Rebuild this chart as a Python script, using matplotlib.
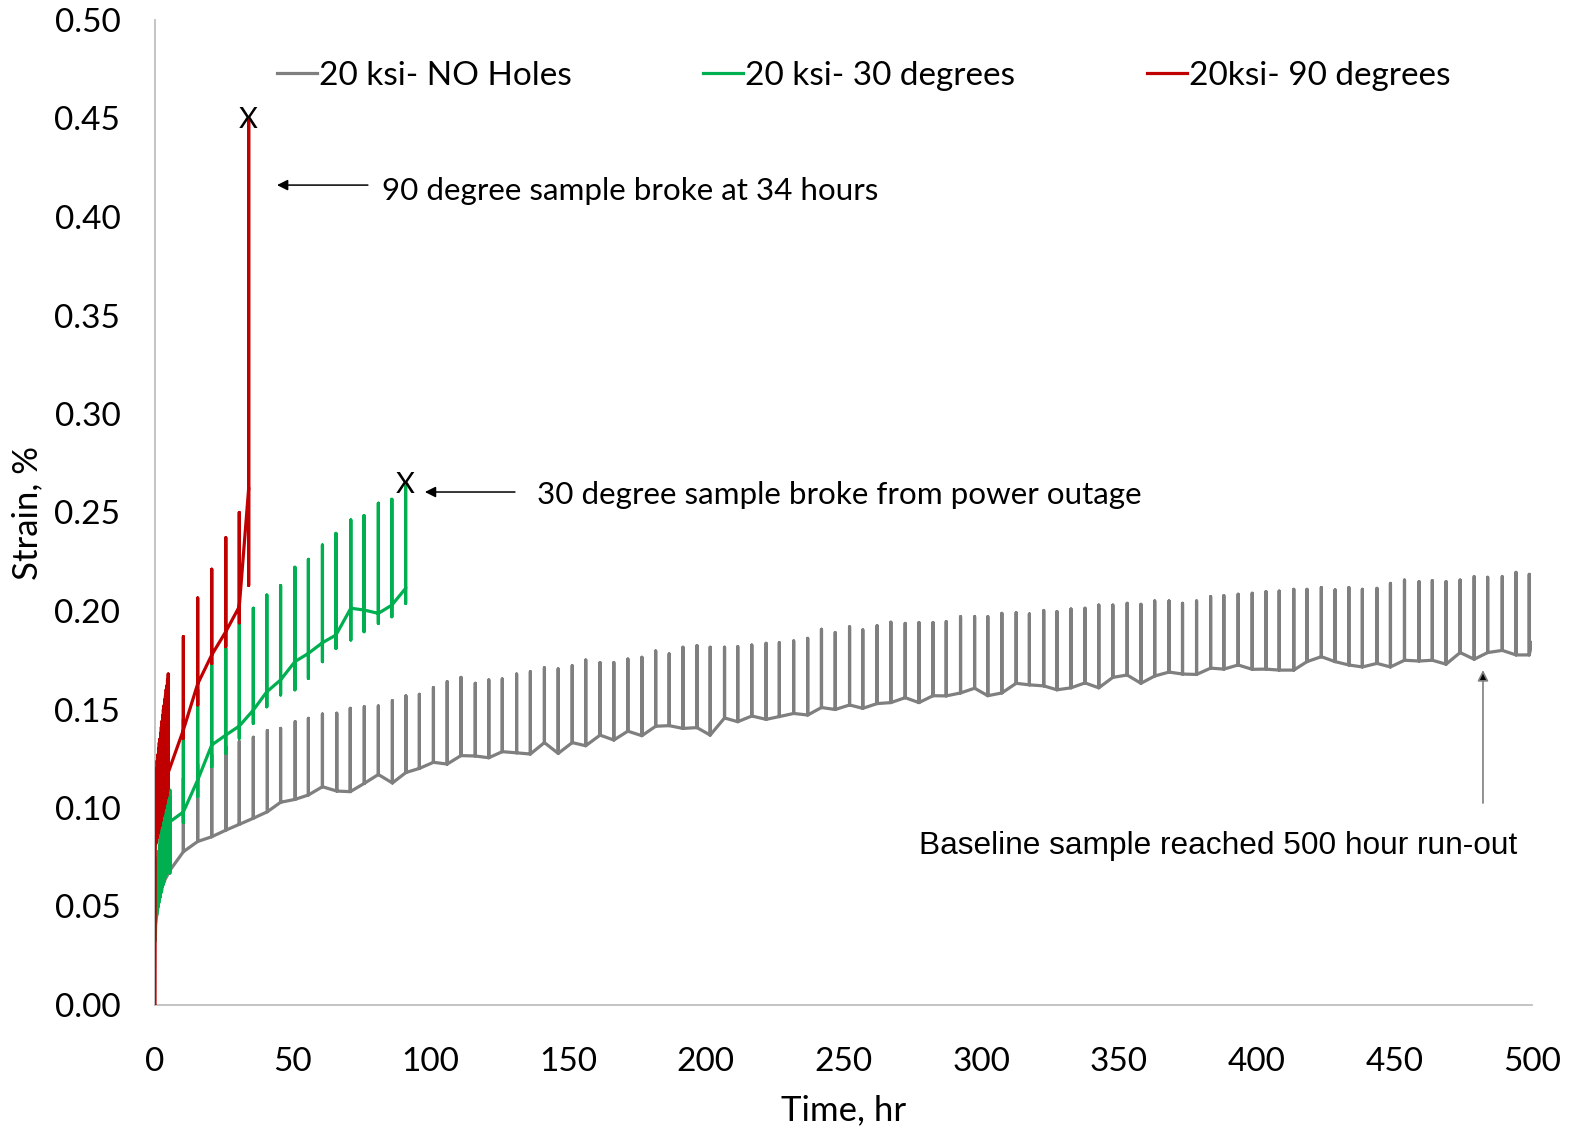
import matplotlib
matplotlib.use("Agg")
import matplotlib.pyplot as plt
from matplotlib.lines import Line2D

plt.rcParams['font.family'] = ['Lato', 'DejaVu Sans']

# ---- 20 ksi, no holes (baseline sample) ----
gray_lead_t = [0.3, 1.5, 3.0]
gray_lead_s = [0.042, 0.055, 0.062]
gray_t = [5.5, 10.3, 15.5, 20.6, 25.8, 30.6, 35.7, 40.8, 45.6, 50.9,
          55.7, 60.8, 66.0, 70.9, 76.0, 81.1, 86.2, 91.1, 96.0, 101.1,
          106.1, 111.1, 116.3, 121.2, 126.1, 131.3, 136.3, 141.4, 146.4, 151.5,
          156.4, 161.6, 166.6, 171.7, 176.8, 181.8, 186.7, 191.7, 196.8, 201.6,
          206.8, 211.6, 216.7, 221.9, 226.7, 231.9, 237.0, 242.0, 247.0, 252.2,
          257.0, 262.2, 267.2, 272.4, 277.4, 282.5, 287.3, 292.5, 297.6, 302.4,
          307.5, 312.7, 317.5, 322.7, 327.5, 332.6, 337.7, 342.7, 347.8, 353.0,
          358.0, 363.0, 368.2, 373.1, 378.2, 383.3, 388.1, 393.3, 398.4, 403.4,
          408.2, 413.5, 418.3, 423.5, 428.5, 433.5, 438.4, 443.7, 448.6, 453.7,
          459.0, 463.8, 468.8, 473.9, 479.0, 483.9, 489.2, 494.2, 499.0]
gray_peak = [0.105, 0.115, 0.122, 0.127, 0.131, 0.1337, 0.1359, 0.1393, 0.1404, 0.1438,
             0.1455, 0.1477, 0.1481, 0.1506, 0.1514, 0.1518, 0.1545, 0.1569, 0.1577, 0.1611,
             0.1641, 0.1663, 0.1633, 0.1650, 0.1655, 0.1680, 0.1692, 0.1712, 0.1706, 0.1722,
             0.1751, 0.1738, 0.1738, 0.1756, 0.1765, 0.1797, 0.1782, 0.1816, 0.1824, 0.1816,
             0.1816, 0.1819, 0.1827, 0.1836, 0.1839, 0.1848, 0.1861, 0.1907, 0.1890, 0.1920,
             0.1904, 0.1925, 0.1943, 0.1937, 0.1941, 0.1941, 0.1946, 0.1971, 0.1971, 0.1971,
             0.1988, 0.1991, 0.1985, 0.2002, 0.1997, 0.2010, 0.2014, 0.2030, 0.2030, 0.2039,
             0.2034, 0.2051, 0.2051, 0.2039, 0.2051, 0.2073, 0.2078, 0.2085, 0.2090, 0.2098,
             0.2101, 0.2110, 0.2110, 0.2119, 0.2107, 0.2119, 0.2110, 0.2115, 0.2140, 0.2157,
             0.2149, 0.2154, 0.2149, 0.2157, 0.2174, 0.2171, 0.2174, 0.2196, 0.2186]
gray_base = [0.0685, 0.0778, 0.0830, 0.0854, 0.0888, 0.0917, 0.0948, 0.0981, 0.1029, 0.1044,
             0.1066, 0.1108, 0.1086, 0.1083, 0.1125, 0.1170, 0.1127, 0.1180, 0.1201, 0.1232,
             0.1223, 0.1266, 0.1264, 0.1255, 0.1286, 0.1280, 0.1274, 0.1332, 0.1277, 0.1332,
             0.1316, 0.1370, 0.1345, 0.1390, 0.1367, 0.1415, 0.1418, 0.1404, 0.1408, 0.1370,
             0.1457, 0.1438, 0.1467, 0.1450, 0.1464, 0.1480, 0.1472, 0.1510, 0.1500, 0.1523,
             0.1506, 0.1530, 0.1535, 0.1560, 0.1535, 0.1570, 0.1569, 0.1584, 0.1608, 0.1570,
             0.1584, 0.1633, 0.1625, 0.1620, 0.1600, 0.1610, 0.1635, 0.1610, 0.1663, 0.1675,
             0.1633, 0.1670, 0.1690, 0.1680, 0.1678, 0.1710, 0.1705, 0.1726, 0.1704, 0.1705,
             0.1700, 0.1700, 0.1743, 0.1768, 0.1743, 0.1726, 0.1716, 0.1734, 0.1716, 0.1750,
             0.1746, 0.1750, 0.1730, 0.1789, 0.1755, 0.1789, 0.1800, 0.1777, 0.1777]
gray_end_t = [500.0]
gray_end_s = [0.184]

# ---- 20 ksi, 30 degree holes ----
green_lead_t = [0.1]
green_lead_s = [0.033]
green_t = [0.4, 0.65, 0.9, 1.15, 1.4, 1.65, 1.9, 2.15, 2.4, 2.65,
           2.9, 3.15, 3.4, 3.65, 3.9, 4.15, 4.4, 4.65, 5.4,
           10.3, 15.5, 20.6, 25.7, 30.6, 35.7, 40.6, 45.6, 50.8, 55.7,
           60.8, 65.7, 71.1, 75.9, 81.1, 86.0, 91.0]
green_top = [0.065, 0.069, 0.072, 0.075, 0.078, 0.081, 0.084, 0.087, 0.089, 0.091,
             0.093, 0.095, 0.097, 0.099, 0.101, 0.103, 0.104, 0.106, 0.109,
             0.145, 0.160, 0.1734, 0.181, 0.1937, 0.2014, 0.2081, 0.2129, 0.2222, 0.2262,
             0.2335, 0.2394, 0.2462, 0.2484, 0.2547, 0.2567, 0.2640]
green_low = [0.045, 0.046, 0.048, 0.050, 0.052, 0.054, 0.055, 0.057, 0.058, 0.060,
             0.061, 0.062, 0.063, 0.065, 0.066, 0.067, 0.068, 0.068, 0.067,
             0.0926, 0.1058, 0.121, 0.1278, 0.1354, 0.143, 0.1514, 0.1574, 0.160, 0.1658,
             0.1743, 0.181, 0.1853, 0.1895, 0.1937, 0.1971, 0.2039]
green_base = [0.052, 0.055, 0.058, 0.061, 0.063, 0.066, 0.068, 0.070, 0.072, 0.074,
              0.076, 0.078, 0.079, 0.081, 0.083, 0.085, 0.086, 0.088, 0.093,
              0.098, 0.1142, 0.132, 0.137, 0.1416, 0.1497, 0.159, 0.165, 0.1743, 0.1785,
              0.1839, 0.1878, 0.2014, 0.2005, 0.1988, 0.203, 0.2115]

# ---- 20 ksi, 90 degree holes ----
red_lead_t = [0.0, 0.1]
red_lead_s = [0.0, 0.08]
red_t = [0.3, 0.55, 0.8, 1.05, 1.3, 1.55, 1.8, 2.05, 2.3, 2.55,
         2.8, 3.05, 3.3, 3.55, 3.8, 4.05, 4.3, 4.55, 4.8,
         10.3, 15.5, 20.6, 25.7, 30.6, 34.0]
red_top = [0.116, 0.120, 0.124, 0.127, 0.130, 0.133, 0.135, 0.138, 0.141, 0.144,
           0.147, 0.150, 0.152, 0.155, 0.157, 0.160, 0.162, 0.165, 0.168,
           0.187, 0.2066, 0.2212, 0.2372, 0.250, 0.449]
red_low = [0.082, 0.083, 0.085, 0.087, 0.088, 0.090, 0.091, 0.093, 0.094, 0.096,
           0.097, 0.099, 0.100, 0.102, 0.103, 0.105, 0.106, 0.108, 0.110,
           0.1354, 0.1523, 0.1734, 0.1819, 0.194, 0.213]
red_base = [0.095, 0.098, 0.100, 0.102, 0.103, 0.105, 0.106, 0.107, 0.108, 0.109,
            0.110, 0.111, 0.112, 0.113, 0.114, 0.115, 0.116, 0.117, 0.118,
            0.1396, 0.163, 0.1777, 0.1895, 0.2022, 0.262]

labels = ["20 ksi- NO Holes", "20 ksi- 30 degrees", "20ksi- 90 degrees"]
colors = ["#7f7f7f", "#00b050", "#c00000"]
x_ticks = [0, 50, 100, 150, 200, 250, 300, 350, 400, 450, 500]
y_ticks = [0.00, 0.05, 0.10, 0.15, 0.20, 0.25, 0.30, 0.35, 0.40, 0.45, 0.50]


def spike_path(lead_t, lead_s, t, top, low, base, end_t=(), end_s=()):
    """Continuous trace: each reading jumps up to its top, down to its low,
    and settles back at its base before moving on."""
    xs, ys = list(lead_t), list(lead_s)
    for ti, hi, lo, b in zip(t, top, low, base):
        xs += [ti, ti, ti, ti]
        ys += [b, hi, lo, b]
    xs += list(end_t)
    ys += list(end_s)
    return xs, ys


fig = plt.figure(figsize=(15.73, 11.29), dpi=100)
ax = fig.add_axes([155 / 1573, 1 - 1005 / 1129, 1377 / 1573, 985 / 1129])

lw = 2.3
gx, gy = spike_path(gray_lead_t, gray_lead_s, gray_t, gray_peak, gray_base, gray_base,
                    gray_end_t, gray_end_s)
ax.plot(gx, gy, color=colors[0], lw=lw, solid_joinstyle='round', zorder=2)
cx_, cy_ = spike_path(green_lead_t, green_lead_s, green_t, green_top, green_low, green_base)
ax.plot(cx_, cy_, color=colors[1], lw=lw, solid_joinstyle='round', zorder=3)
rx, ry = spike_path(red_lead_t, red_lead_s, red_t, red_top, red_low, red_base)
ax.plot(rx, ry, color=colors[2], lw=lw, solid_joinstyle='round', zorder=4)

ax.set_xlim(0, 500)
ax.set_ylim(0, 0.5)
ax.set_xticks(x_ticks)
ax.set_yticks(y_ticks)
ax.set_xticklabels([str(v) for v in x_ticks])
ax.set_yticklabels([f"{v:.2f}" for v in y_ticks])
ax.tick_params(axis='both', length=0, labelsize=24, colors='black')
ax.tick_params(axis='y', pad=25)
ax.tick_params(axis='x', pad=30)
for s in ['top', 'right']:
    ax.spines[s].set_visible(False)
for s in ['left', 'bottom']:
    ax.spines[s].set_color('#bfbfbf')
    ax.spines[s].set_linewidth(1.3)

ax.set_xlabel("Time, hr", fontsize=25, labelpad=13)
ax.set_ylabel("Strain, %", fontsize=25, labelpad=8)

# break markers at the last reading of each failed sample
ax.text(red_t[-1], red_top[-1], "X", fontsize=21, ha='center', va='center', zorder=6)
ax.text(green_t[-1], green_top[-1], "X", fontsize=21, ha='center', va='center', zorder=6)

arrow = dict(arrowstyle='-|>', color='black', lw=1.1, mutation_scale=16,
             shrinkA=0, shrinkB=0)
ax.annotate("", xy=(44.3, 0.4162), xytext=(77.3, 0.4162), arrowprops=arrow)
ax.text(82.4, 0.4132, "90 degree sample broke at 34 hours", fontsize=22.6,
        ha='left', va='center')
ax.annotate("", xy=(98.0, 0.2604), xytext=(130.7, 0.2604), arrowprops=arrow)
ax.text(138.7, 0.2590, "30 degree sample broke from power outage", fontsize=22.6,
        ha='left', va='center')
ax.annotate("", xy=(482.2, 0.170), xytext=(482.2, 0.1025),
            arrowprops=dict(arrowstyle='-|>', fc='black', ec='#7f7f7f', lw=1.2,
                            mutation_scale=16, shrinkA=0, shrinkB=0))
ax.text(386.0, 0.0805, "Baseline sample reached 500 hour run-out", fontsize=22.8,
        ha='center', va='center', family=['Liberation Sans', 'DejaVu Sans'])

handles = [Line2D([0], [0], color=c, lw=lw) for c in colors]
fig.legend(handles, labels, loc='center left', bbox_to_anchor=(277 / 1573, 1 - 76 / 1129),
           ncol=3, frameon=False, fontsize=24, handlelength=1.2, handletextpad=0.06,
           columnspacing=3.95, borderpad=0, borderaxespad=0)

fig.savefig("out.png", dpi=100)
